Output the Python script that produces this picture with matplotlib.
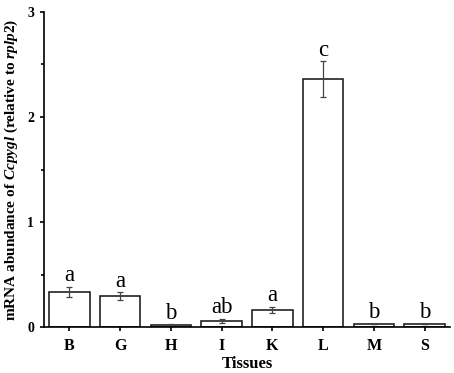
import matplotlib
matplotlib.use("Agg")
import matplotlib.pyplot as plt
from matplotlib.ticker import MultipleLocator

tissues = ["B", "G", "H", "I", "K", "L", "M", "S"]
means = [0.333, 0.295, 0.02, 0.06, 0.16, 2.36, 0.03, 0.03]
errors = [0.05, 0.035, 0.005, 0.02, 0.03, 0.17, 0.004, 0.004]
letters = ["a", "a", "b", "ab", "a", "c", "b", "b"]

plt.rcParams['font.family'] = ['Liberation Serif', 'DejaVu Serif']
plt.rcParams['mathtext.fontset'] = 'custom'
plt.rcParams['mathtext.it'] = 'Liberation Serif:italic:bold'
plt.rcParams['mathtext.bf'] = 'Liberation Serif:bold'
plt.rcParams['mathtext.rm'] = 'Liberation Serif:bold'

fig = plt.figure(figsize=(4.54, 3.73), dpi=100)
ax = fig.add_axes([0.097, 0.123, 0.894, 0.845])
x = list(range(len(tissues)))
ax.bar(x, means, width=0.8, color="white", edgecolor="#222222", linewidth=1.2,
       yerr=errors, error_kw=dict(ecolor="#444444", elinewidth=0.9, capsize=2.5, capthick=0.9))
for xi, m, e, l in zip(x, means, errors, letters):
    ax.text(xi, m + e + 0.055, l, ha="center", va="baseline", fontsize=16.5)

ax.set_xlim(-0.5, 7.5)
ax.set_ylim(0, 3)
ax.set_xticks(x)
ax.set_xticklabels(tissues, fontweight="bold", fontsize=11.5)
ax.yaxis.set_major_locator(MultipleLocator(1))
ax.yaxis.set_minor_locator(MultipleLocator(0.5))
for lab in ax.get_yticklabels():
    lab.set_fontweight("bold")
    lab.set_fontsize(10)
ax.tick_params(axis="both", which="both", direction="out", width=1.2)
ax.tick_params(axis="both", which="major", length=3)
ax.tick_params(axis="y", which="minor", length=2)
ax.tick_params(axis="x", pad=5)
ax.tick_params(axis="y", pad=4)
for s in ["top", "right"]:
    ax.spines[s].set_visible(False)
for s in ["left", "bottom"]:
    ax.spines[s].set_linewidth(1.2)
ax.set_xlabel("Tissues", fontweight="bold", fontsize=12, labelpad=1)
ax.set_ylabel(r"mRNA abundance of $\mathit{Ccpygl}$ (relative to $\mathit{rplp2}$)",
              fontweight="bold", fontsize=11, labelpad=5)
fig.savefig("out.png", dpi=100)
